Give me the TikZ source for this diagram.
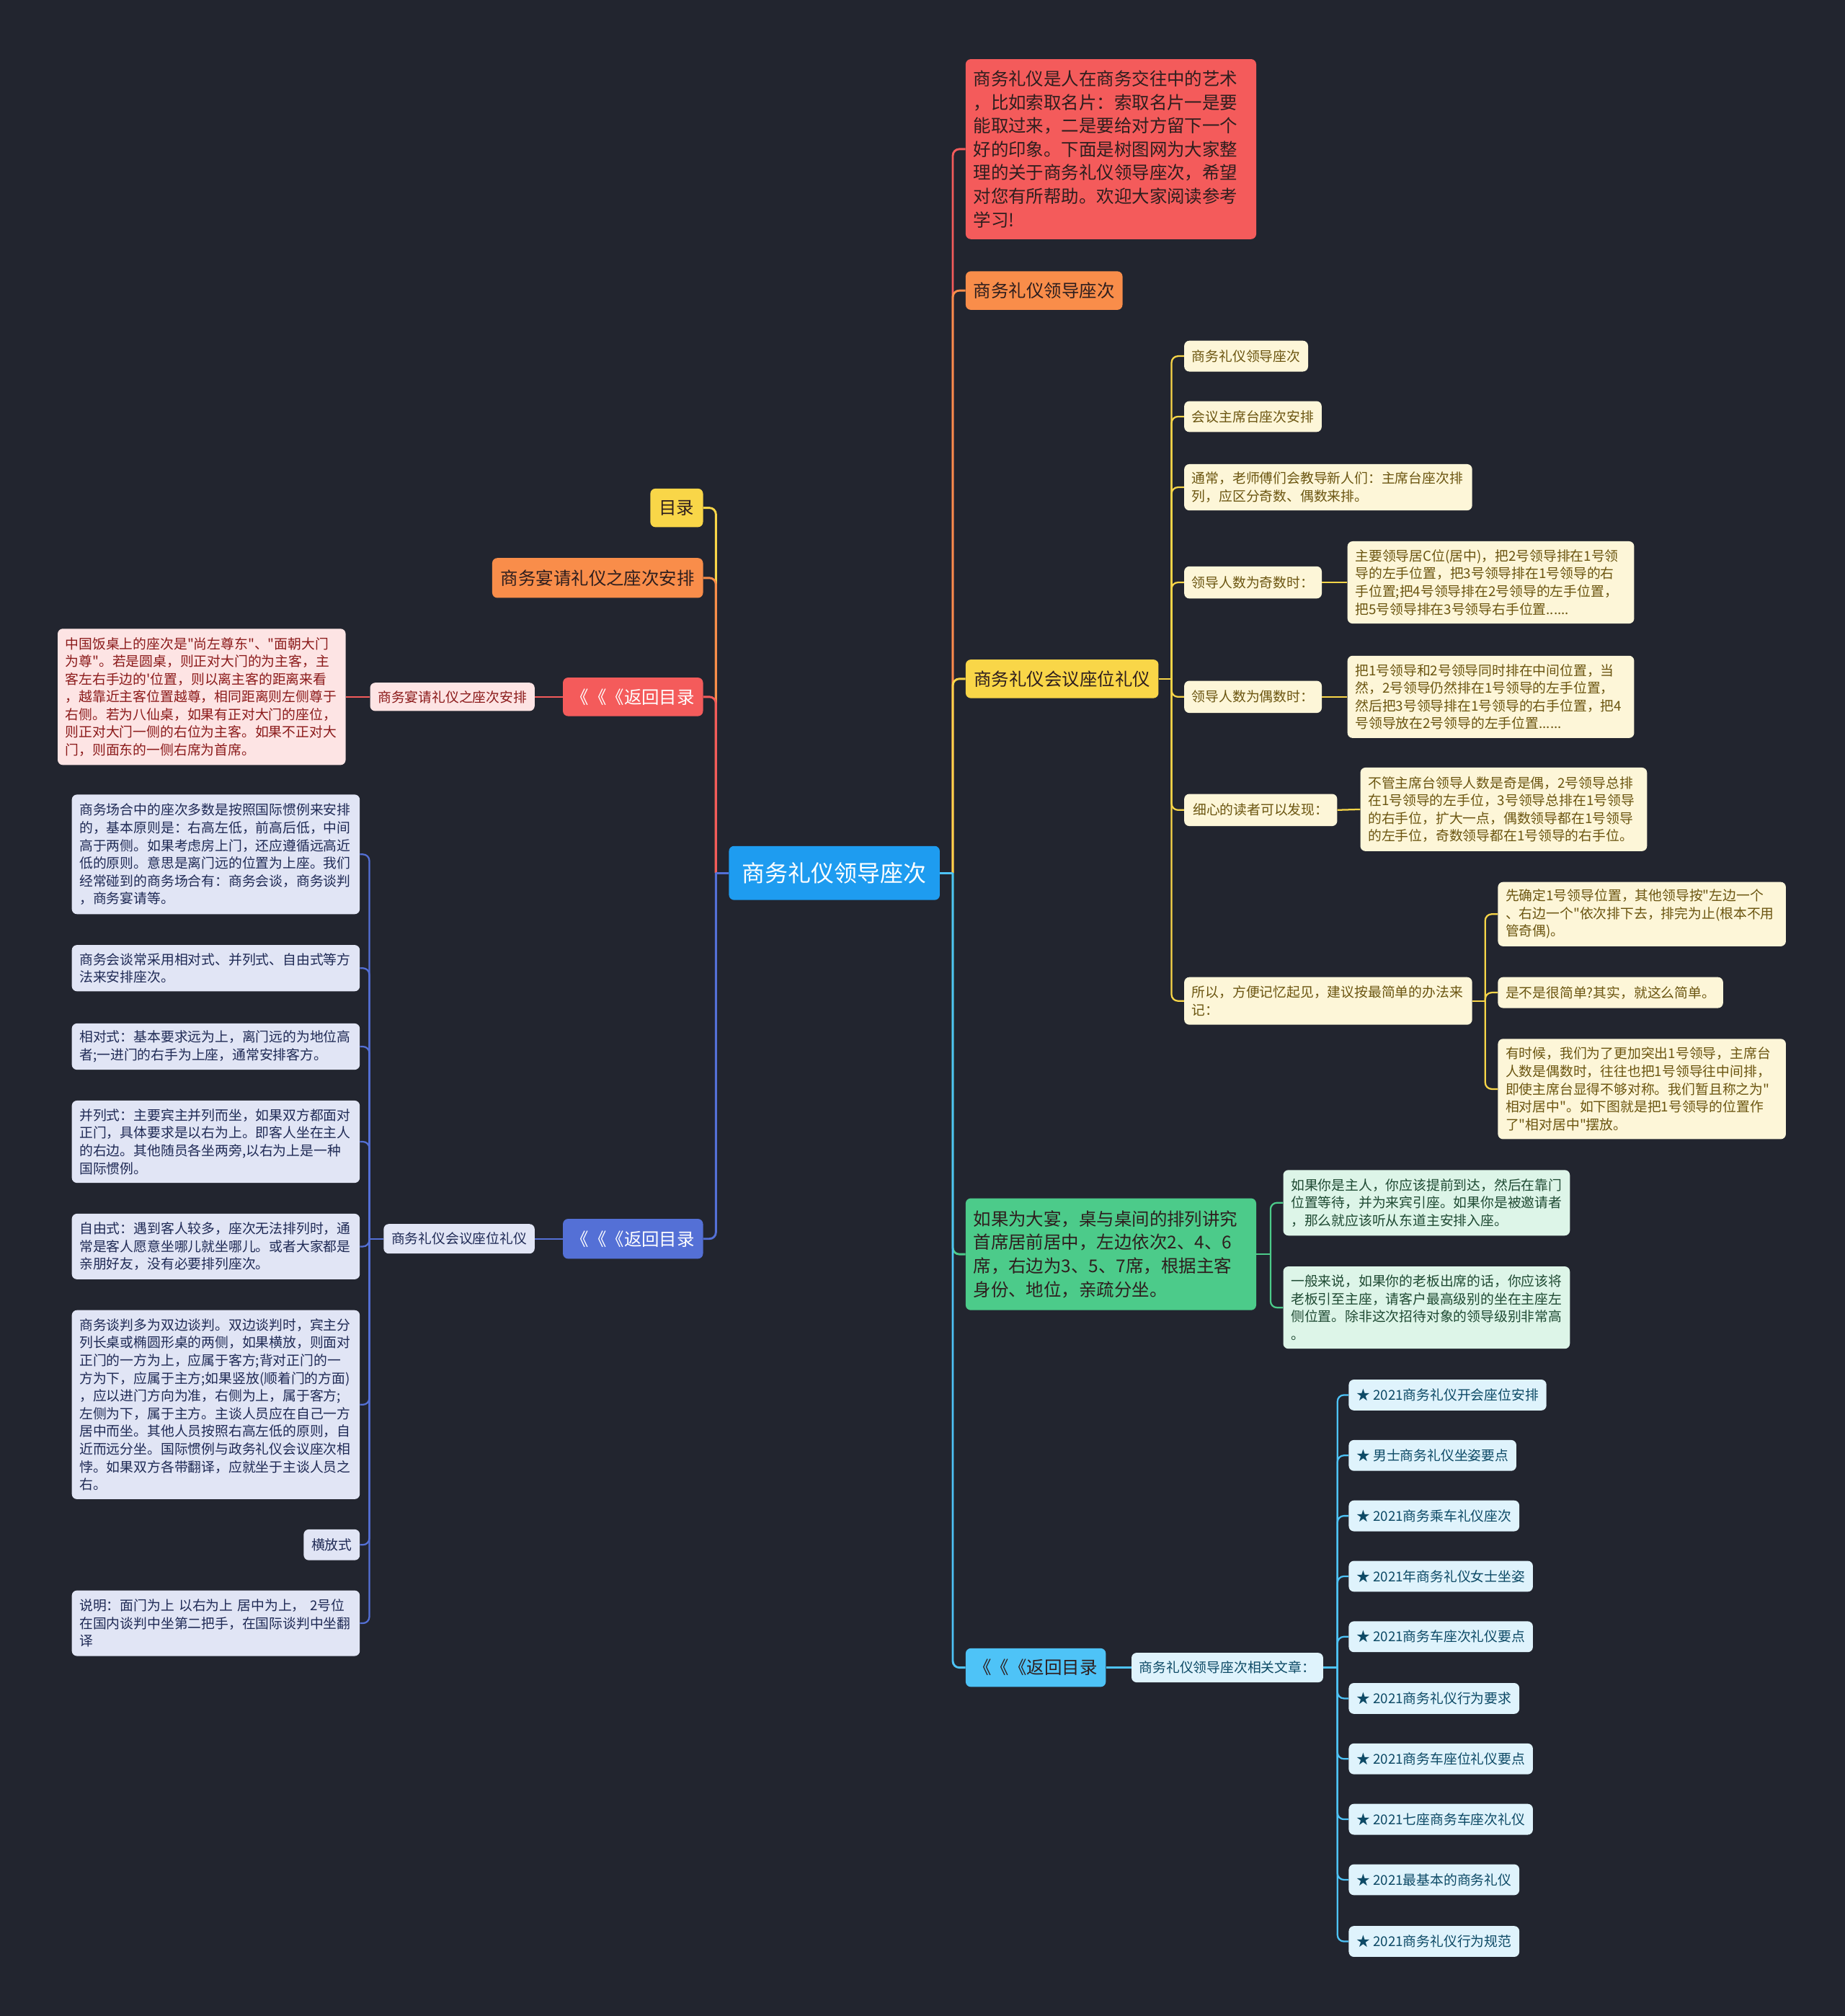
\documentclass[tikz,border=0pt]{standalone}
\usepackage{fontspec}
\setmainfont{Noto Sans CJK SC}[Ligatures=TeXOff]

\definecolor{bgcol}{HTML}{22252F}
\definecolor{rootblue}{HTML}{1E9CF0}
\definecolor{mapred}{HTML}{F45B5B}
\definecolor{maporange}{HTML}{F98D4A}
\definecolor{mapyellow}{HTML}{F9D648}
\definecolor{mapgreen}{HTML}{4CCB8A}
\definecolor{mapcyan}{HTML}{4EC3F7}
\definecolor{mapblue}{HTML}{5470D6}
\definecolor{pinkfill}{HTML}{FDE4E4}
\definecolor{pinktext}{HTML}{8B1A1A}
\definecolor{creamfill}{HTML}{FDF6D8}
\definecolor{creamtext}{HTML}{6B5510}
\definecolor{mintfill}{HTML}{DDF5E8}
\definecolor{minttext}{HTML}{1F4A33}
\definecolor{icefill}{HTML}{DFF3FC}
\definecolor{icetext}{HTML}{0D4A66}
\definecolor{lilacfill}{HTML}{E1E5F5}
\definecolor{lilactext}{HTML}{1F2A55}
\definecolor{darktext}{HTML}{2E1E1E}

\begin{document}
\begin{tikzpicture}[
        x=0.05cm, y=-0.05cm,
        box/.style={rounded corners=0.2cm, inner xsep=0.3cm, inner ysep=0.15cm, align=left},
        bigtext/.style={font=\fontsize{19.5pt}{26pt}\selectfont},
        smalltext/.style={font=\fontsize{15pt}{19.6pt}\selectfont},
        rootbox/.style={box, fill=rootblue, text=white, font=\fontsize{25.5pt}{30pt}\selectfont,
            minimum width=8.2cm, minimum height=2.1cm, align=center},
        redbox/.style={box, bigtext, fill=mapred, text=darktext},
        orangebox/.style={box, bigtext, fill=maporange, text=darktext},
        yellowbox/.style={box, bigtext, fill=mapyellow, text=darktext},
        greenbox/.style={box, bigtext, fill=mapgreen, text=darktext},
        cyanbox/.style={box, bigtext, fill=mapcyan, text=darktext},
        bluebox/.style={box, bigtext, fill=mapblue, text=white},
        pinkbox/.style={box, smalltext, fill=pinkfill, text=pinktext},
        creambox/.style={box, smalltext, fill=creamfill, text=creamtext},
        mintbox/.style={box, smalltext, fill=mintfill, text=minttext},
        icebox/.style={box, smalltext, fill=icefill, text=icetext},
        lilacbox/.style={box, smalltext, fill=lilacfill, text=lilactext},
        mainline/.style={line width=2.3pt, rounded corners=0.25cm},
        subline/.style={line width=1.8pt, rounded corners=0.25cm}
    ]

    \fill[bgcol] (0,0) rectangle (1435,1568);
    \useasboundingbox (0,0) rectangle (1435,1568);

    % root
    \node[rootbox] (root) at (649,679) {商务礼仪领导座次};

    % right side
    \node[redbox, anchor=west, text width=10.7cm, minimum height=7cm] (r1) at (751,116) {商务礼仪是人在商务交往中的艺术\\，比如索取名片：索取名片一是要\\能取过来，二是要给对方留下一个\\好的印象。下面是树图网为大家整\\理的关于商务礼仪领导座次，希望\\对您有所帮助。欢迎大家阅读参考\\学习!};
    \node[orangebox, anchor=west, minimum width=6.1cm, minimum height=1.5cm] (r2) at (751,226) {商务礼仪领导座次};
    \node[yellowbox, anchor=west, minimum width=7.5cm, minimum height=1.5cm] (r3) at (751,528) {商务礼仪会议座位礼仪};
    \node[greenbox, anchor=west, text width=10.7cm, minimum height=4.35cm] (r4) at (751,975.5) {如果为大宴，桌与桌间的排列讲究\\首席居前居中，左边依次2、4、6\\席，右边为3、5、7席，根据主客\\身份、地位，亲疏分坐。};
    \node[cyanbox, anchor=west, minimum width=5.45cm, minimum height=1.5cm] (r5) at (751,1297) {《《《返回目录};

    % meeting seats
    \node[creambox, anchor=west, minimum width=4.8cm, minimum height=1.2cm] (y1) at (921,277) {商务礼仪领导座次};
    \node[creambox, anchor=west, minimum width=5.3cm, minimum height=1.2cm] (y2) at (921,324) {会议主席台座次安排};
    \node[creambox, anchor=west, text width=10.6cm, minimum height=1.8cm] (y3) at (921,379) {通常，老师傅们会教导新人们：主席台座次排\\列，应区分奇数、偶数来排。};
    \node[creambox, anchor=west, minimum width=5.35cm, minimum height=1.25cm] (y4) at (921,453) {领导人数为奇数时：};
    \node[creambox, anchor=west, text width=10.55cm, minimum height=3.2cm] (y4c) at (1048,453) {主要领导居C位(居中)，把2号领导排在1号领\\导的左手位置，把3号领导排在1号领导的右\\手位置;把4号领导排在2号领导的左手位置，\\把5号领导排在3号领导右手位置......};
    \node[creambox, anchor=west, minimum width=5.35cm, minimum height=1.25cm] (y5) at (921,542) {领导人数为偶数时：};
    \node[creambox, anchor=west, text width=10.55cm, minimum height=3.2cm] (y5c) at (1048,542) {把1号领导和2号领导同时排在中间位置，当\\然，2号领导仍然排在1号领导的左手位置，\\然后把3号领导排在1号领导的右手位置，把4\\号领导放在2号领导的左手位置......};
    \node[creambox, anchor=west, minimum width=5.95cm, minimum height=1.25cm] (y6) at (921,630) {细心的读者可以发现：};
    \node[creambox, anchor=west, text width=10.55cm, minimum height=3.25cm] (y6c) at (1058,629.5) {不管主席台领导人数是奇是偶，2号领导总排\\在1号领导的左手位，3号领导总排在1号领导\\的右手位，扩大一点，偶数领导都在1号领导\\的左手位，奇数领导都在1号领导的右手位。};
    \node[creambox, anchor=west, text width=10.6cm, minimum height=1.85cm] (y7) at (921,778.5) {所以，方便记忆起见，建议按最简单的办法来\\记：};
    \node[creambox, anchor=west, text width=10.6cm, minimum height=2.5cm] (y7a) at (1165,711) {先确定1号领导位置，其他领导按"左边一个\\、右边一个"依次排下去，排完为止(根本不用\\管奇偶)。};
    \node[creambox, anchor=west, minimum width=8.75cm, minimum height=1.2cm] (y7b) at (1165,772) {是不是很简单?其实，就这么简单。};
    \node[creambox, anchor=west, text width=10.6cm, minimum height=3.9cm] (y7c) at (1165,847) {有时候，我们为了更加突出1号领导，主席台\\人数是偶数时，往往也把1号领导往中间排，\\即使主席台显得不够对称。我们暂且称之为"\\相对居中"。如下图就是把1号领导的位置作\\了"相对居中"摆放。};

    % banquet tables
    \node[mintbox, anchor=west, text width=10.55cm, minimum height=2.55cm] (g1) at (998,935.5) {如果你是主人，你应该提前到达，然后在靠门\\位置等待，并为来宾引座。如果你是被邀请者\\，那么就应该听从东道主安排入座。};
    \node[mintbox, anchor=west, text width=10.55cm, minimum height=3.2cm] (g2) at (998,1017) {一般来说，如果你的老板出席的话，你应该将\\老板引至主座，请客户最高级别的坐在主座左\\侧位置。除非这次招待对象的领导级别非常高\\。};

    % related articles
    \node[icebox, anchor=west, minimum width=7.4cm, minimum height=1.15cm] (b1) at (880,1297) {商务礼仪领导座次相关文章：};
    \node[icebox, anchor=west, minimum height=1.2cm] (a1) at (1049,1085) {★ 2021商务礼仪开会座位安排};
    \node[icebox, anchor=west, minimum height=1.2cm] (a2) at (1049,1132) {★ 男士商务礼仪坐姿要点};
    \node[icebox, anchor=west, minimum height=1.2cm] (a3) at (1049,1179) {★ 2021商务乘车礼仪座次};
    \node[icebox, anchor=west, minimum height=1.2cm] (a4) at (1049,1226) {★ 2021年商务礼仪女士坐姿};
    \node[icebox, anchor=west, minimum height=1.2cm] (a5) at (1049,1273) {★ 2021商务车座次礼仪要点};
    \node[icebox, anchor=west, minimum height=1.2cm] (a6) at (1049,1321) {★ 2021商务礼仪行为要求};
    \node[icebox, anchor=west, minimum height=1.2cm] (a7) at (1049,1368) {★ 2021商务车座位礼仪要点};
    \node[icebox, anchor=west, minimum height=1.2cm] (a8) at (1049,1415) {★ 2021七座商务车座次礼仪};
    \node[icebox, anchor=west, minimum height=1.2cm] (a9) at (1049,1462) {★ 2021最基本的商务礼仪};
    \node[icebox, anchor=west, minimum height=1.2cm] (a10) at (1049,1510) {★ 2021商务礼仪行为规范};

    % left side
    \node[yellowbox, anchor=east, minimum width=2.05cm, minimum height=1.5cm] (l1) at (547,395) {目录};
    \node[orangebox, anchor=east, minimum width=8.2cm, minimum height=1.55cm] (l2) at (547,449.5) {商务宴请礼仪之座次安排};
    \node[redbox, text=white, anchor=east, minimum width=5.45cm, minimum height=1.5cm] (l3) at (547,542) {《《《返回目录};
    \node[pinkbox, anchor=east, minimum width=6.3cm, minimum height=1.1cm] (l3a) at (416,542) {商务宴请礼仪之座次安排};
    \node[pinkbox, anchor=east, text width=10.6cm, minimum height=5.3cm] (l3b) at (269,542) {中国饭桌上的座次是"尚左尊东"、"面朝大门\\为尊"。若是圆桌，则正对大门的为主客，主\\客左右手边的'位置，则以离主客的距离来看\\，越靠近主客位置越尊，相同距离则左侧尊于\\右侧。若为八仙桌，如果有正对大门的座位，\\则正对大门一侧的右位为主客。如果不正对大\\门，则面东的一侧右席为首席。};
    \node[bluebox, anchor=east, minimum width=5.45cm, minimum height=1.55cm] (l4) at (547,963.5) {《《《返回目录};
    \node[lilacbox, anchor=east, minimum width=5.75cm, minimum height=1.15cm] (l4a) at (416,963.5) {商务礼仪会议座位礼仪};

    % meeting seat details
    \node[lilacbox, anchor=east, text width=10.6cm, minimum height=4.65cm] (c1) at (280,664.5) {商务场合中的座次多数是按照国际惯例来安排\\的，基本原则是：右高左低，前高后低，中间\\高于两侧。如果考虑房上门，还应遵循远高近\\低的原则。意思是离门远的位置为上座。我们\\经常碰到的商务场合有：商务会谈，商务谈判\\，商务宴请等。};
    \node[lilacbox, anchor=east, text width=10.6cm, minimum height=1.8cm] (c2) at (280,753) {商务会谈常采用相对式、并列式、自由式等方\\法来安排座次。};
    \node[lilacbox, anchor=east, text width=10.6cm, minimum height=1.8cm] (c3) at (280,814) {相对式：基本要求远为上，离门远的为地位高\\者;一进门的右手为上座，通常安排客方。};
    \node[lilacbox, anchor=east, text width=10.6cm, minimum height=3.2cm] (c4) at (280,888) {并列式：主要宾主并列而坐，如果双方都面对\\正门，具体要求是以右为上。即客人坐在主人\\的右边。其他随员各坐两旁,以右为上是一种\\国际惯例。};
    \node[lilacbox, anchor=east, text width=10.6cm, minimum height=2.55cm] (c5) at (280,969.5) {自由式：遇到客人较多，座次无法排列时，通\\常是客人愿意坐哪儿就坐哪儿。或者大家都是\\亲朋好友，没有必要排列座次。};
    \node[lilacbox, anchor=east, text width=10.6cm, minimum height=7.35cm] (c6) at (280,1092.5) {商务谈判多为双边谈判。双边谈判时，宾主分\\列长桌或椭圆形桌的两侧，如果横放，则面对\\正门的一方为上，应属于客方;背对正门的一\\方为下，应属于主方;如果竖放(顺着门的方面)\\，应以进门方向为准，右侧为上，属于客方;\\左侧为下，属于主方。主谈人员应在自己一方\\居中而坐。其他人员按照右高左低的原则，自\\近而远分坐。国际惯例与政务礼仪会议座次相\\悖。如果双方各带翻译，应就坐于主谈人员之\\右。};
    \node[lilacbox, anchor=east, minimum width=2.15cm, minimum height=1.2cm] (c7) at (280,1201.5) {横放式};
    \node[lilacbox, anchor=east, text width=10.6cm, minimum height=2.55cm] (c8) at (280,1262.5) {说明：面门为上~以右为上~居中为上，~2号位\\在国内谈判中坐第二把手，在国际谈判中坐翻\\译};

    % forks
    \coordinate (rj) at ([xshift=0.5cm]root.east);
    \coordinate (lj) at ([xshift=-0.5cm]root.west);
    \coordinate (yj) at ([xshift=0.5cm]r3.east);
    \coordinate (sj) at ([xshift=0.5cm]y7.east);
    \coordinate (gj) at ([xshift=0.55cm]r4.east);
    \coordinate (bj) at ([xshift=0.55cm]b1.east);
    \coordinate (cj) at ([xshift=-0.55cm]l4a.west);

    % connectors, right
    \draw[mainline, mapred] (rj) |- (r1.west);
    \draw[mainline, maporange] (rj) |- (r2.west);
    \draw[mainline, mapyellow] (rj) |- (r3.west);
    \draw[mainline, mapgreen] (rj) |- (r4.west);
    \draw[mainline, mapcyan] (rj) |- (r5.west);
    \draw[mainline, mapcyan] (root.east) -- (rj);

    \draw[subline, mapyellow] (r3.east) -- (yj);
    \draw[subline, mapyellow] (yj) |- (y1.west);
    \draw[subline, mapyellow] (yj) |- (y2.west);
    \draw[subline, mapyellow] (yj) |- (y3.west);
    \draw[subline, mapyellow] (yj) |- (y4.west);
    \draw[subline, mapyellow] (yj) |- (y5.west);
    \draw[subline, mapyellow] (yj) |- (y6.west);
    \draw[subline, mapyellow] (yj) |- (y7.west);
    \draw[subline, mapyellow] (y4.east) -- (y4c.west);
    \draw[subline, mapyellow] (y5.east) -- (y5c.west);
    \draw[subline, mapyellow] (y6.east) -- (y6c.west);
    \draw[subline, mapyellow] (y7.east) -- (sj);
    \draw[subline, mapyellow] (sj) |- (y7a.west);
    \draw[subline, mapyellow] (sj) |- (y7b.west);
    \draw[subline, mapyellow] (sj) |- (y7c.west);

    \draw[subline, mapgreen] (r4.east) -- (gj);
    \draw[subline, mapgreen] (gj) |- (g1.west);
    \draw[subline, mapgreen] (gj) |- (g2.west);

    \draw[subline, mapcyan] (r5.east) -- (b1.west);
    \draw[subline, mapcyan] (b1.east) -- (bj);
    \draw[subline, mapcyan] (bj) |- (a1.west);
    \draw[subline, mapcyan] (bj) |- (a2.west);
    \draw[subline, mapcyan] (bj) |- (a3.west);
    \draw[subline, mapcyan] (bj) |- (a4.west);
    \draw[subline, mapcyan] (bj) |- (a5.west);
    \draw[subline, mapcyan] (bj) |- (a6.west);
    \draw[subline, mapcyan] (bj) |- (a7.west);
    \draw[subline, mapcyan] (bj) |- (a8.west);
    \draw[subline, mapcyan] (bj) |- (a9.west);
    \draw[subline, mapcyan] (bj) |- (a10.west);

    % connectors, left
    \draw[mainline, mapyellow] (lj) |- (l1.east);
    \draw[mainline, maporange] (lj) |- (l2.east);
    \draw[mainline, mapred] (lj) |- (l3.east);
    \draw[mainline, mapblue] (lj) |- (l4.east);
    \draw[mainline, mapblue] (root.west) -- (lj);

    \draw[subline, mapred] (l3.west) -- (l3a.east);
    \draw[subline, mapred] (l3a.west) -- (l3b.east);

    \draw[subline, mapblue] (l4.west) -- (l4a.east);
    \draw[subline, mapblue] (l4a.west) -- (cj);
    \draw[subline, mapblue] (cj) |- (c1.east);
    \draw[subline, mapblue] (cj) |- (c2.east);
    \draw[subline, mapblue] (cj) |- (c3.east);
    \draw[subline, mapblue] (cj) |- (c4.east);
    \draw[subline, mapblue] (cj) |- (c5.east);
    \draw[subline, mapblue] (cj) |- (c6.east);
    \draw[subline, mapblue] (cj) |- (c7.east);
    \draw[subline, mapblue] (cj) |- (c8.east);

\end{tikzpicture}
\end{document}
